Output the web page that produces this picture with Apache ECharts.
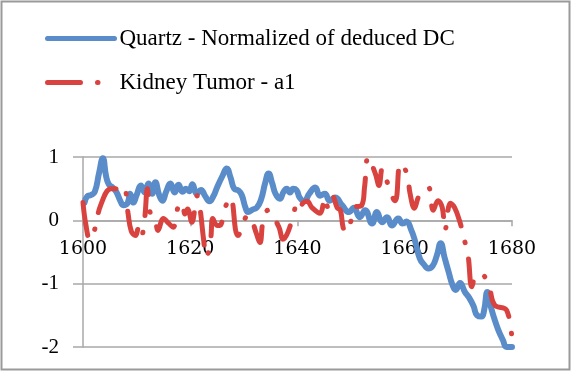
<!DOCTYPE html>
<html>
<head>
<meta charset="utf-8">
<script src="https://cdn.jsdelivr.net/npm/echarts@6/dist/echarts.min.js"></script>
<style>
  html, body { margin: 0; padding: 0; background: #fff; }
  #main { width: 572px; height: 372px; }
</style>
</head>
<body>
<div id="main"></div>
<script>
// series names
var quartzName = 'Quartz - Normalized of deduced DC';
var kidneyName = 'Kidney Tumor - a1';

// blue series (year, value)
var quartzYears = [1600.3, 1600.8, 1601.5, 1602.2, 1603.0, 1603.7, 1604.3, 1604.8, 1605.5, 1606.2,
  1607.0, 1607.5, 1608.3, 1608.8, 1609.4, 1610.0, 1610.8, 1611.5, 1612.2, 1612.9,
  1613.5, 1614.2, 1614.8, 1615.5, 1616.3, 1617.1, 1617.8, 1618.6, 1619.2, 1619.8,
  1620.4, 1621.2, 1622.0, 1622.8, 1623.6, 1624.3, 1625.0, 1626.0, 1626.8, 1627.5,
  1628.2, 1629.0, 1629.6, 1630.3, 1630.8, 1631.6, 1632.4, 1633.2, 1634.0, 1634.6,
  1635.3, 1635.9, 1636.7, 1637.4, 1638.0, 1638.6, 1639.2, 1639.8, 1640.4, 1641.2,
  1642.2, 1643.3, 1644.2, 1645.1, 1646.0, 1647.0, 1648.3, 1649.6, 1650.5, 1651.6,
  1652.6, 1653.9, 1654.8, 1655.8, 1656.7, 1657.6, 1658.8, 1659.6, 1660.3, 1661.2,
  1662.0, 1662.8, 1663.6, 1664.4, 1665.2, 1666.0, 1666.7, 1667.4, 1668.2, 1668.9,
  1669.5, 1670.3, 1671.2, 1672.0, 1672.8, 1673.5, 1674.3, 1674.8, 1675.4, 1676.0,
  1676.7, 1677.4, 1678.3, 1679.0, 1680.0];
var quartzValues = [0.28, 0.38, 0.40, 0.45, 0.75, 0.98, 0.70, 0.57, 0.52, 0.45,
  0.30, 0.24, 0.27, 0.42, 0.28, 0.40, 0.55, 0.44, 0.58, 0.42,
  0.60, 0.40, 0.31, 0.45, 0.58, 0.44, 0.56, 0.45, 0.50, 0.46,
  0.57, 0.42, 0.48, 0.38, 0.30, 0.38, 0.52, 0.70, 0.82, 0.68,
  0.50, 0.47, 0.40, 0.20, 0.13, 0.17, 0.20, 0.33, 0.60, 0.74,
  0.58, 0.42, 0.34, 0.45, 0.50, 0.44, 0.50, 0.48, 0.36, 0.30,
  0.42, 0.52, 0.39, 0.42, 0.31, 0.36, 0.24, 0.13, 0.20, 0.05,
  0.16, -0.05, 0.13, -0.03, 0.05, -0.08, 0.03, -0.05, -0.02, -0.15,
  -0.35, -0.60, -0.70, -0.76, -0.72, -0.55, -0.36, -0.58, -0.82, -1.02,
  -1.10, -0.99, -1.13, -1.22, -1.35, -1.50, -1.52, -1.42, -1.13, -1.35,
  -1.55, -1.72, -1.89, -2.0, -2.0];

// red series (year, value)
var kidneyYears = [1600.0, 1600.5, 1601.3, 1602.0, 1603.3, 1605.2, 1606.0, 1607.3, 1607.8, 1608.4,
  1609.0, 1609.8, 1610.3, 1610.8, 1611.5, 1612.0, 1612.5, 1613.3, 1614.0, 1615.0,
  1616.0, 1616.8, 1617.7, 1618.5, 1619.0, 1619.5, 1620.3, 1621.3, 1621.8, 1622.5,
  1623.0, 1623.8, 1624.2, 1625.0, 1625.5, 1626.5, 1627.5, 1628.9, 1630.8, 1631.5,
  1632.3, 1633.0, 1633.6, 1634.5, 1636.5, 1637.3, 1638.2, 1639.3, 1639.8, 1640.4,
  1641.0, 1641.8, 1642.7, 1644.2, 1645.1, 1645.7, 1646.5, 1647.4, 1648.0, 1648.5,
  1649.0, 1650.0, 1650.5, 1652.0, 1652.5, 1653.2, 1654.5, 1655.2, 1655.8, 1656.4,
  1658.2, 1659.2, 1660.4, 1661.0, 1661.8, 1662.7, 1664.4, 1665.3, 1666.2, 1667.0,
  1667.5, 1668.5, 1669.3, 1670.3, 1671.0, 1671.8, 1672.5, 1673.2, 1674.0, 1675.0,
  1675.8, 1676.8, 1679.0, 1680.0];
var kidneyValues = [0.28, -0.05, -0.31, -0.20, 0.24, 0.50, 0.50, 0.42, 0.48, 0.11,
  -0.17, -0.24, -0.13, -0.28, 0.03, 0.50, 0.13, 0.09, -0.16, 0.03,
  -0.05, -0.11, 0.20, 0.28, 0.10, 0.18, -0.03, 0.39, 0.20, -0.31,
  -0.58, -0.30, 0.03, -0.08, -0.08, 0.20, 0.36, -0.24, 0.08, 0.0,
  -0.20, -0.35, 0.0, 0.16, -0.10, -0.30, -0.19, 0.11, 0.24, 0.16,
  0.27, 0.30, 0.20, 0.11, 0.36, 0.20, 0.39, 0.20, 0.16, -0.11,
  -0.19, 0.0, 0.20, 0.24, 0.52, 1.0, 0.74, 0.55, 0.82, 0.68,
  0.31, 0.90, 0.74, 0.42, 0.19, 0.39, 0.52, 0.16, 0.31, 0.20,
  -0.16, 0.27, 0.20, -0.03, -0.27, -0.55, -1.05, -0.87, -0.85, -0.90,
  -1.07, -1.34, -1.42, -1.92];

// axis ticks
var xTicks = [1600, 1620, 1640, 1660, 1680];
var yTicks = [-2, -1, 0, 1];

function pairs(xs, ys) {
  var out = [];
  for (var i = 0; i < xs.length; i++) {
    out.push([xs[i], ys[i]]);
  }
  return out;
}

var myChart = echarts.init(document.getElementById('main'));

var axisGray = '#a8a8a8';
var serif = '"Liberation Serif", "Times New Roman", serif';

// plot box
var gridTop = 157, gridBottom = 25;
var plotH = 372 - gridTop - gridBottom;
var yMin = yTicks[0], yMax = yTicks[yTicks.length - 1];
// shift the x axis up from the bottom edge to the zero line
var zeroOffset = -plotH * (0 - yMin) / (yMax - yMin);

var option = {
  animation: false,
  backgroundColor: '#ffffff',
  graphic: [
    {
      type: 'rect',
      shape: { x: 1.5, y: 1.5, width: 568, height: 368 },
      style: { fill: 'none', stroke: '#9a9a9a', lineWidth: 2 },
      silent: true
    }
  ],
  legend: {
    orient: 'vertical',
    left: 45,
    top: 27,
    padding: 0,
    itemWidth: 67,
    itemHeight: 14,
    itemGap: 21,
    data: [quartzName, kidneyName],
    itemStyle: { opacity: 0 },
    lineStyle: { width: 5 },
    textStyle: {
      fontFamily: serif,
      fontSize: 23,
      lineHeight: 23,
      color: '#000'
    }
  },
  grid: {
    left: 83,
    right: 60,
    top: gridTop,
    bottom: gridBottom,
    containLabel: false
  },
  xAxis: {
    type: 'value',
    min: xTicks[0],
    max: xTicks[xTicks.length - 1],
    interval: 20,
    position: 'bottom',
    offset: zeroOffset,
    axisLine: { show: true, onZero: false, lineStyle: { color: axisGray, width: 1.5 } },
    axisTick: { show: true, length: 6, lineStyle: { color: axisGray, width: 1.5 } },
    splitLine: { show: false },
    axisLabel: {
      margin: 19,
      fontFamily: '"DejaVu Serif", serif',
      fontSize: 19,
      color: '#000',
      formatter: function (v) { return String(v); }
    }
  },
  yAxis: {
    type: 'value',
    min: yMin,
    max: yMax,
    interval: 1,
    axisLine: { show: true, onZero: false, lineStyle: { color: axisGray, width: 1.5 } },
    axisTick: { show: true, length: 10, lineStyle: { color: axisGray, width: 1.5 } },
    splitLine: { show: true, lineStyle: { color: axisGray, width: 1.5 } },
    axisLabel: {
      margin: 24,
      fontFamily: serif,
      fontSize: 21,
      color: '#000'
    }
  },
  series: [
    {
      name: quartzName,
      type: 'line',
      data: pairs(quartzYears, quartzValues),
      smooth: 0.5,
      symbol: 'none',
      color: '#5a8cc9',
      lineStyle: { color: '#5a8cc9', width: 6, cap: 'round', join: 'round' }
    },
    {
      name: kidneyName,
      type: 'line',
      data: pairs(kidneyYears, kidneyValues),
      smooth: 0.4,
      symbol: 'none',
      color: '#d8433f',
      lineStyle: {
        color: '#d8433f',
        width: 5,
        type: [33, 17, 0.5, 17],
        cap: 'round',
        join: 'round'
      }
    }
  ]
};

myChart.setOption(option);
</script>
</body>
</html>
